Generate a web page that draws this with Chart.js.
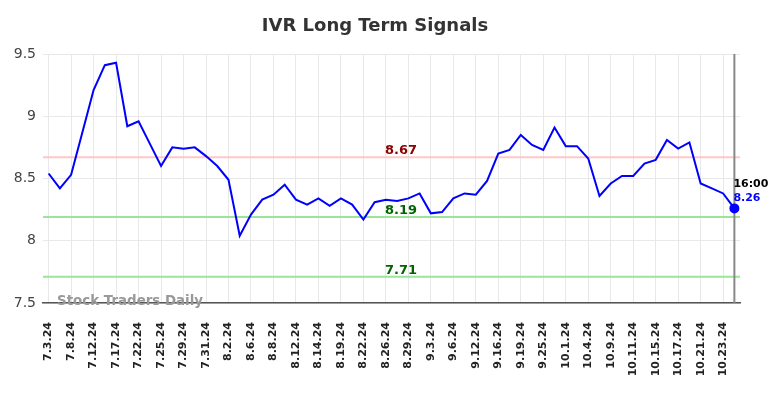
<!DOCTYPE html>
<html>
<head>
<meta charset="utf-8">
<script src="https://cdn.jsdelivr.net/npm/chart.js@4.4.1/dist/chart.umd.min.js"></script>
<style>
  html, body { margin: 0; padding: 0; background: #fff; }
  #wrap { width: 784px; height: 398px; }
</style>
</head>
<body>
<div id="wrap"><canvas id="signalsChart" width="784" height="398"></canvas></div>
<script>
const dates = [
  "7.3.24", "7.5.24", "7.8.24", "7.10.24", "7.12.24", "7.15.24", "7.17.24", "7.18.24",
  "7.22.24", "7.23.24", "7.25.24", "7.26.24", "7.29.24", "7.30.24", "7.31.24", "8.1.24",
  "8.2.24", "8.5.24", "8.6.24", "8.7.24", "8.8.24", "8.9.24", "8.12.24", "8.13.24",
  "8.14.24", "8.16.24", "8.19.24", "8.20.24", "8.22.24", "8.23.24", "8.26.24", "8.27.24",
  "8.29.24", "8.30.24", "9.3.24", "9.4.24", "9.6.24", "9.10.24", "9.12.24", "9.13.24",
  "9.16.24", "9.17.24", "9.19.24", "9.23.24", "9.25.24", "9.27.24", "10.1.24", "10.3.24",
  "10.4.24", "10.7.24", "10.9.24", "10.10.24", "10.11.24", "10.14.24", "10.15.24", "10.16.24",
  "10.17.24", "10.18.24", "10.21.24", "10.22.24", "10.23.24", "10.25.24"
];
const prices = [
  8.54, 8.42, 8.53, 8.87, 9.21, 9.41, 9.43, 8.92, 8.96, 8.78,
  8.60, 8.75, 8.74, 8.75, 8.68, 8.60, 8.49, 8.04, 8.21, 8.33,
  8.37, 8.45, 8.33, 8.29, 8.34, 8.28, 8.34, 8.29, 8.17, 8.31,
  8.33, 8.32, 8.34, 8.38, 8.22, 8.23, 8.34, 8.38, 8.37, 8.48,
  8.70, 8.73, 8.85, 8.77, 8.73, 8.91, 8.76, 8.76, 8.66, 8.36,
  8.46, 8.52, 8.52, 8.62, 8.65, 8.81, 8.74, 8.79, 8.46, 8.42,
  8.38, 8.26
];
const yTicks = [7.5, 8, 8.5, 9, 9.5];
const signalLevels = [8.67, 8.19, 7.71];
const signalLineColors = ["#ffc8c8", "#99e699", "#99e699"];
const signalTextColors = ["#8b0000", "#006400", "#006400"];
const lastTime = "16:00";

const font = "DejaVu Sans";

// horizontal signal lines, title, watermark and last-price marker
const overlay = {
  id: "overlay",
  beforeDatasetsDraw(chart) {
    const { ctx, chartArea, scales } = chart;
    ctx.save();
    signalLevels.forEach((lvl, i) => {
      const y = scales.y.getPixelForValue(lvl);
      ctx.strokeStyle = signalLineColors[i];
      ctx.lineWidth = 2;
      ctx.beginPath();
      ctx.moveTo(chartArea.left, y);
      ctx.lineTo(chartArea.right, y);
      ctx.stroke();
      ctx.fillStyle = signalTextColors[i];
      ctx.font = "bold 13px " + font;
      ctx.textAlign = "center";
      ctx.textBaseline = "alphabetic";
      ctx.fillText(lvl.toFixed(2), 401, y - 3);
    });
    const lx = scales.x.getPixelForValue(prices.length - 1);
    ctx.strokeStyle = "#888";
    ctx.lineWidth = 2;
    ctx.beginPath();
    ctx.moveTo(lx, chartArea.top);
    ctx.lineTo(lx, chartArea.bottom);
    ctx.stroke();
    ctx.restore();
  },
  afterDraw(chart) {
    const { ctx, chartArea, scales } = chart;
    ctx.save();
    ctx.fillStyle = "#333";
    ctx.font = "bold 18px " + font;
    ctx.textAlign = "center";
    ctx.textBaseline = "middle";
    ctx.fillText("IVR Long Term Signals", 375, 26);

    ctx.fillStyle = "#999";
    ctx.font = "bold 13.4px " + font;
    ctx.textAlign = "left";
    ctx.fillText("Stock Traders Daily", 57, chartArea.bottom - 1);

    const last = prices.length - 1;
    const lx = scales.x.getPixelForValue(last);
    const ly = scales.y.getPixelForValue(prices[last]);
    ctx.font = "bold 11px " + font;
    ctx.fillStyle = "#000";
    ctx.fillText(lastTime, lx - 1, ly - 24);
    ctx.fillStyle = "#0000ff";
    ctx.fillText(prices[last].toFixed(2), lx - 1, ly - 10);
    ctx.restore();
  }
};

const ctx = document.getElementById("signalsChart").getContext("2d");
const chart = new Chart(ctx, {
  type: "line",
  data: {
    labels: dates,
    datasets: [{
      data: prices,
      borderColor: "#0000ff",
      backgroundColor: "#0000ff",
      borderWidth: 2,
      tension: 0,
      pointRadius: prices.map((v, i) => i === prices.length - 1 ? 4 : 0),
      pointHoverRadius: 0
    }]
  },
  options: {
    responsive: false,
    animation: false,
    events: [],
    layout: { padding: { top: 54, right: 44, left: 0, bottom: 0 } },
    plugins: { legend: { display: false }, title: { display: false }, tooltip: { enabled: false } },
    scales: {
      x: {
        offset: true,
        grid: { color: "#e8e8e8", lineWidth: 1, drawTicks: false, offset: false },
        border: { color: "#555", width: 1.5 },
        ticks: {
          autoSkip: false,
          maxRotation: 90,
          minRotation: 90,
          padding: 19,
          color: "#222",
          font: { family: font, size: 11, weight: "bold" },
          callback: function (v, i) { return i % 2 === 0 ? this.getLabelForValue(v) : null; }
        },
        afterFit: (s) => { s.height = 95; }
      },
      y: {
        min: 7.5,
        max: 9.5,
        afterBuildTicks: (s) => { s.ticks = yTicks.map(v => ({ value: v })); },
        grid: { color: "#e8e8e8", lineWidth: 1, drawTicks: false },
        border: { display: false },
        ticks: {
          padding: 7,
          color: "#444",
          font: { family: font, size: 14 },
          callback: (v) => String(v)
        },
        afterFit: (s) => { s.width = 43; }
      }
    }
  },
  plugins: [overlay]
});
</script>
</body>
</html>
